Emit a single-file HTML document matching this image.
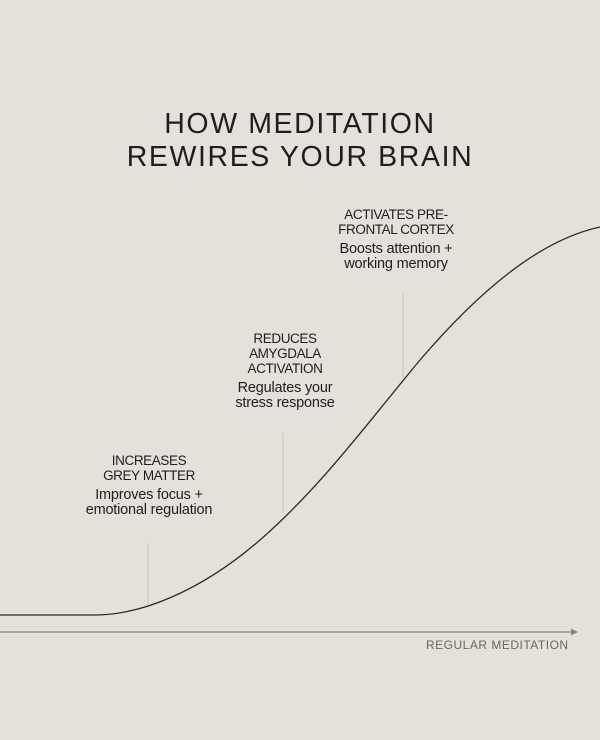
<!DOCTYPE html>
<html><head><meta charset="utf-8"><style>
html,body{margin:0;padding:0}
body{width:600px;height:740px;background:#e4e0da;position:relative;overflow:hidden;font-family:"Liberation Sans",sans-serif;color:#1e1e1e}
.t{position:absolute;left:0;width:600px;text-align:center;font-size:28.5px;letter-spacing:1.6px;line-height:33px;top:108px}
.l{position:absolute;text-align:center;font-size:14px;line-height:15px}
.l .h{letter-spacing:-0.4px;font-size:13.5px}
.l .b{margin-top:5px;font-size:14.5px;letter-spacing:-0.2px}
.ax{position:absolute;left:426px;top:638px;font-size:12px;color:#6a6664;letter-spacing:0.5px}
</style></head><body>
<svg width="600" height="740" style="position:absolute;left:0;top:0">
<line x1="148" y1="543" x2="148" y2="605" stroke="#cfc4bd" stroke-width="1.2"/>
<line x1="283" y1="433" x2="283" y2="513" stroke="#cfc4bd" stroke-width="1.2"/>
<line x1="403" y1="294" x2="403" y2="378" stroke="#cfc4bd" stroke-width="1.2"/>
<path d="M0,615 H95 C140,615 200,592 260,540 C320,488 370,420 420,360 C480,290 540,240 600,227" fill="none" stroke="#2a2a2a" stroke-width="1.3"/>
<line x1="0" y1="632" x2="572" y2="632" stroke="#888380" stroke-width="1.3"/>
<polygon points="578,632 571,628.5 571,635.5" fill="#888380"/>
</svg>
<div class="t">HOW MEDITATION<br>REWIRES YOUR BRAIN</div>
<div class="l" style="left:59px;width:180px;top:453px"><div class="h">INCREASES<br>GREY MATTER</div><div class="b">Improves focus +<br>emotional regulation</div></div>
<div class="l" style="left:195px;width:180px;top:331px"><div class="h">REDUCES<br>AMYGDALA<br>ACTIVATION</div><div class="b">Regulates your<br>stress response</div></div>
<div class="l" style="left:306px;width:180px;top:207px"><div class="h">ACTIVATES PRE-<br>FRONTAL CORTEX</div><div class="b">Boosts attention +<br>working memory</div></div>
<div class="ax">REGULAR MEDITATION</div>
</body></html>
